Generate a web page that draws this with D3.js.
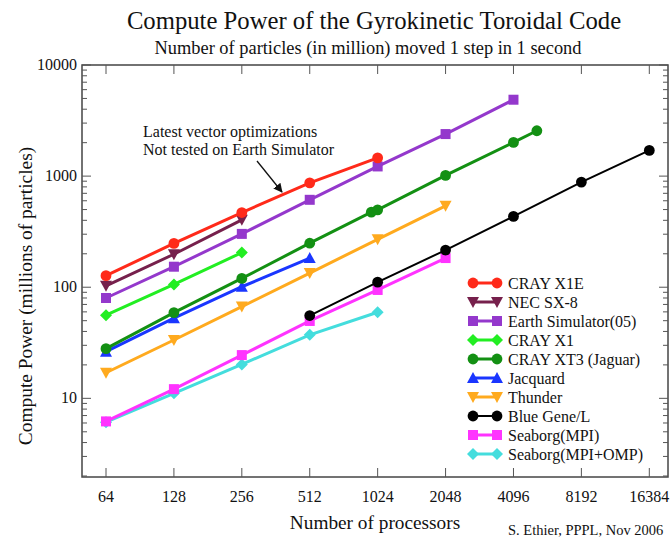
<!DOCTYPE html>
<html><head><meta charset="utf-8">
<script src="https://cdn.jsdelivr.net/npm/d3@7"></script>
<style>body{margin:0;background:#fff}svg{display:block}text{font-family:"Liberation Serif","Times New Roman",serif;fill:#111}</style>
</head><body><svg id="c" width="670" height="539"></svg>
<script>
const xTicks = [64,128,256,512,1024,2048,4096,8192,16384];
const yTicks = [10,100,1000,10000];
const seriesNames = ["CRAY X1E","NEC SX-8","Earth Simulator(05)","CRAY X1","CRAY XT3 (Jaguar)","Jacquard","Thunder","Blue Gene/L","Seaborg(MPI)","Seaborg(MPI+OMP)"];
const crayX1E_p = [64,128,256,512,1024];          const crayX1E_v = [127,248,470,870,1460];
const necSX8_p = [64,128,256];                    const necSX8_v = [103,198,404];
const earth_p = [64,128,256,512,1024,2048,4096];   const earth_v = [80,153,302,612,1222,2390,4870];
const crayX1_p = [64,128,256];                    const crayX1_v = [56,106,205];
const xt3_p = [64,128,256,512,960,1024,2048,4096,5200]; const xt3_v = [28,59,120,249,474,497,1015,2010,2560];
const jacquard_p = [64,128,256,512];              const jacquard_v = [26.3,52.6,101,183];
const thunder_p = [64,128,256,512,1024,2048];     const thunder_v = [17,33.5,67,134,270,540];
const bgl_p = [512,1024,2048,4096,8192,16384];    const bgl_v = [55.6,111,216,434,883,1703];
const seaMPI_p = [64,128,256,512,1024,2048];      const seaMPI_v = [6.2,12.1,24.5,49.7,94.5,183];
const seaOMP_p = [64,128,256,512,1024];           const seaOMP_v = [6.1,11.1,20.2,37.3,59.5];

const series = [
  {p:crayX1E_p,v:crayX1E_v,color:"#ff2a1a",sym:"circle",w:3},
  {p:necSX8_p,v:necSX8_v,color:"#76204c",sym:"tdown",w:3},
  {p:earth_p,v:earth_v,color:"#9438cc",sym:"square",w:3},
  {p:crayX1_p,v:crayX1_v,color:"#22ee22",sym:"diamond",w:3},
  {p:xt3_p,v:xt3_v,color:"#139013",sym:"circle",w:3},
  {p:jacquard_p,v:jacquard_v,color:"#1a36ff",sym:"tup",w:3},
  {p:thunder_p,v:thunder_v,color:"#ffaa1e",sym:"tdown",w:3},
  {p:bgl_p,v:bgl_v,color:"#000000",sym:"circle",w:2},
  {p:seaMPI_p,v:seaMPI_v,color:"#ff33ff",sym:"square",w:3},
  {p:seaOMP_p,v:seaOMP_v,color:"#44dddd",sym:"diamond",w:3}
].map((s,i)=>Object.assign(s,{name:seriesNames[i]}));

const svg = d3.select("#c");
const L=82, R=668, T=65, B=477;
const x = d3.scaleLog().base(2).domain([64,16384]).range([106,649.3]);
const y = d3.scaleLog().domain([2,10000]).range([476,65]);

svg.append("rect").attr("x",L).attr("y",T).attr("width",R-L).attr("height",B-T)
  .attr("fill","none").attr("stroke","#444").attr("stroke-width",1.5);

const g = svg.append("g").attr("stroke","#555").attr("stroke-width",1);
xTicks.forEach(t=>{
  g.append("line").attr("x1",x(t)).attr("x2",x(t)).attr("y1",B).attr("y2",B-9);
  g.append("line").attr("x1",x(t)).attr("x2",x(t)).attr("y1",T).attr("y2",T+9);
});
const minor=[];
for(let d=1; d<=1000; d*=10) for(let k=2;k<=9;k++){ if(k*d>=2 && k*d<10000) minor.push(k*d); }
yTicks.forEach(t=>{
  g.append("line").attr("x1",L).attr("x2",L+9).attr("y1",y(t)).attr("y2",y(t));
  g.append("line").attr("x1",R).attr("x2",R-9).attr("y1",y(t)).attr("y2",y(t));
});
minor.forEach(t=>{
  g.append("line").attr("x1",L).attr("x2",L+5).attr("y1",y(t)).attr("y2",y(t));
  g.append("line").attr("x1",R).attr("x2",R-5).attr("y1",y(t)).attr("y2",y(t));
});

svg.append("g").selectAll("text").data(xTicks).join("text")
  .attr("x",d=>x(d)).attr("y",502).attr("text-anchor","middle").attr("font-size",16).text(d=>d);
svg.append("g").selectAll("text").data(yTicks).join("text")
  .attr("x",77).attr("y",d=>y(d)+5).attr("text-anchor","end").attr("font-size",16).text(d=>d);

svg.append("text").attr("x",374).attr("y",29).attr("text-anchor","middle").attr("font-size",24.7)
  .text("Compute Power of the Gyrokinetic Toroidal Code");
svg.append("text").attr("x",368).attr("y",54).attr("text-anchor","middle").attr("font-size",18.4)
  .text("Number of particles (in million) moved 1 step in 1 second");
svg.append("text").attr("transform","translate(32,296) rotate(-90)").attr("text-anchor","middle").attr("font-size",19.4)
  .text("Compute Power (millions of particles)");
svg.append("text").attr("x",375).attr("y",529).attr("text-anchor","middle").attr("font-size",19.3)
  .text("Number of processors");
svg.append("text").attr("x",508).attr("y",535).attr("font-size",14.5).text("S. Ethier, PPPL, Nov 2006");

function drawSym(sel, sym, color, cx, cy){
  if(sym==="circle") sel.append("circle").attr("cx",cx).attr("cy",cy).attr("r",5.4).attr("fill",color);
  else if(sym==="square") sel.append("rect").attr("x",cx-5).attr("y",cy-5).attr("width",10).attr("height",10).attr("fill",color);
  else if(sym==="diamond") sel.append("path").attr("d",`M${cx},${cy-6}L${cx+6},${cy}L${cx},${cy+6}L${cx-6},${cy}Z`).attr("fill",color);
  else if(sym==="tup") sel.append("path").attr("d",`M${cx},${cy-6}L${cx+6},${cy+5}L${cx-6},${cy+5}Z`).attr("fill",color);
  else if(sym==="tdown") sel.append("path").attr("d",`M${cx},${cy+6}L${cx+6},${cy-5}L${cx-6},${cy-5}Z`).attr("fill",color);
}

const line = d3.line().x(d=>x(d[0])).y(d=>y(d[1]));
series.slice().reverse().forEach(s=>{
  const pts = s.p.map((p,i)=>[p,s.v[i]]);
  const gg = svg.append("g");
  gg.append("path").attr("d",line(pts)).attr("fill","none").attr("stroke",s.color).attr("stroke-width",s.w);
  pts.forEach(d=>drawSym(gg,s.sym,s.color,x(d[0]),y(d[1])));
});

const lg = svg.append("g");
series.forEach((s,i)=>{
  const yy = 283 + i*19;
  lg.append("line").attr("x1",473).attr("x2",497).attr("y1",yy).attr("y2",yy).attr("stroke",s.color).attr("stroke-width",s.w);
  drawSym(lg,s.sym,s.color,473,yy);
  drawSym(lg,s.sym,s.color,497,yy);
  lg.append("text").attr("x",508).attr("y",yy+5.5).attr("font-size",16).text(s.name);
});

svg.append("text").attr("x",143).attr("y",137).attr("font-size",16).text("Latest vector optimizations");
svg.append("text").attr("x",143).attr("y",155).attr("font-size",16).text("Not tested on Earth Simulator");
svg.append("defs").append("marker").attr("id","ah").attr("viewBox","0 0 10 10").attr("refX",9).attr("refY",5)
  .attr("markerWidth",7).attr("markerHeight",7).attr("orient","auto")
  .append("path").attr("d","M0,0L10,5L0,10Z").attr("fill","#111");
svg.append("line").attr("x1",257).attr("y1",161).attr("x2",282).attr("y2",192)
  .attr("stroke","#111").attr("stroke-width",1.3).attr("marker-end","url(#ah)");
</script></body></html>
